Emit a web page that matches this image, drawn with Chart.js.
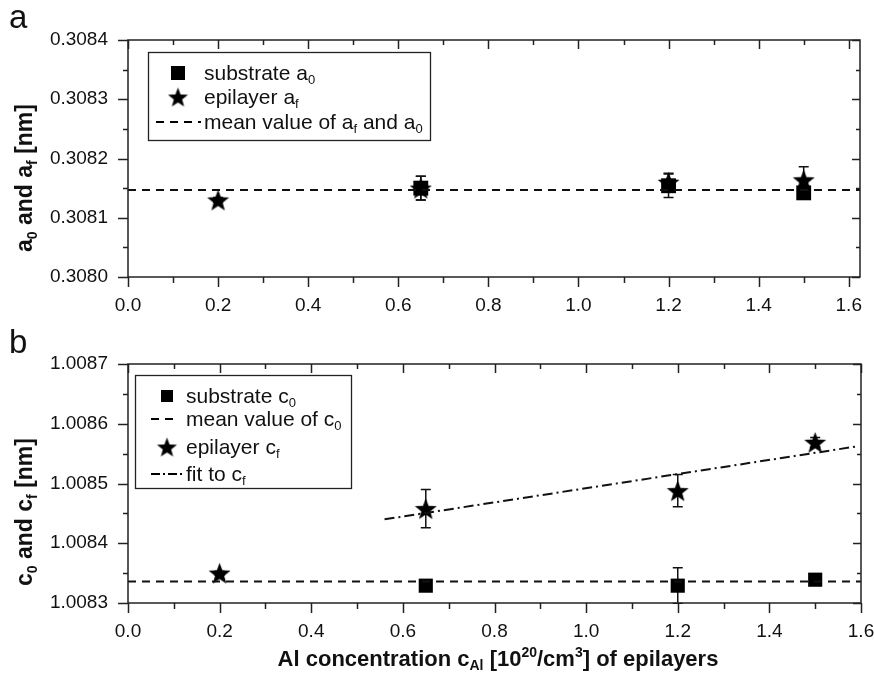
<!DOCTYPE html>
<html>
<head>
<meta charset="utf-8">
<script src="https://cdn.jsdelivr.net/npm/chart.js@4"></script>
<style>
  html, body { margin: 0; padding: 0; background: #fff; }
  #wrap { position: relative; width: 874px; height: 682px; }
  canvas { position: absolute; left: 0; }
  #ca { top: 0; }
  #cb { top: 320px; }
</style>
</head>
<body>
<div id="wrap">
  <canvas id="ca" width="874" height="320" style="width:874px;height:320px"></canvas>
  <canvas id="cb" width="874" height="362" style="width:874px;height:362px"></canvas>
</div>
<script>
// ---- data: lattice parameters versus Al concentration ----
const xTickVals = [0, 0.2, 0.4, 0.6, 0.8, 1.0, 1.2, 1.4, 1.6];
const aTickVals = [0.3080, 0.3081, 0.3082, 0.3083, 0.3084];
const cTickVals = [1.0083, 1.0084, 1.0085, 1.0086, 1.0087];

// panel a: a-lattice parameter [nm]
const substrateAX = [0.65, 1.2, 1.5];
const substrateA = [0.30815, 0.308154, 0.308142];
const substrateAErr = [0.00002, 0.00002, 0.000005];
const epilayerAX = [0.2, 0.65, 1.2, 1.5];
const epilayerA = [0.30813, 0.30815, 0.30816, 0.308164];
const epilayerAErr = [0.000004, 0.00002, 0.000015, 0.000022];
const meanA = 0.308147;

// panel b: c-lattice parameter [nm]
const substrateCX = [0.65, 1.2, 1.5];
const substrateC = [1.008329, 1.008329, 1.008339];
const substrateCErr = [0.000005, 0.00003, 0.000003];
const epilayerCX = [0.2, 0.65, 1.2, 1.5];
const epilayerC = [1.00835, 1.008458, 1.008488, 1.008569];
const epilayerCErr = [0.000003, 0.000032, 0.000027, 0.000008];
const meanC = 1.008336;
const fitCX = [0.56, 1.59];
const fitC = [1.00844, 1.008562];

// ---- drawing helpers ----
const FONT = '"Liberation Sans", Arial, Helvetica, sans-serif';
const INK = '#111';
function fontStr(size, bold) { return (bold ? 'bold ' : '') + size + 'px ' + FONT; }

// parts: plain strings, or {t, sub:true} / {t, sup:true}
function partsWidth(ctx, parts, size, bold) {
  let w = 0;
  for (const p of parts) {
    const small = typeof p !== 'string';
    ctx.font = fontStr(small ? Math.round(size * 0.62) : size, bold);
    w += ctx.measureText(small ? p.t : p).width;
  }
  return w;
}
function drawParts(ctx, parts, x, y, size, bold, align) {
  let cx = x;
  if (align === 'center') cx = x - partsWidth(ctx, parts, size, bold) / 2;
  ctx.textBaseline = 'alphabetic';
  ctx.textAlign = 'left';
  ctx.fillStyle = INK;
  for (const p of parts) {
    if (typeof p === 'string') {
      ctx.font = fontStr(size, bold);
      ctx.fillText(p, cx, y);
      cx += ctx.measureText(p).width;
    } else {
      const s = Math.round(size * 0.62);
      ctx.font = fontStr(s, bold);
      const dy = p.sub ? size * 0.2 : -size * 0.4;
      ctx.fillText(p.t, cx, y + dy);
      cx += ctx.measureText(p.t).width;
    }
  }
}

function makeStar(outer, inner) {
  const s = Math.ceil(outer * 2 + 2);
  const c = document.createElement('canvas');
  c.width = s; c.height = s;
  const g = c.getContext('2d');
  g.translate(s / 2, s / 2 + outer * 0.1);
  g.beginPath();
  for (let i = 0; i < 10; i++) {
    const r = i % 2 ? inner : outer;
    const ang = -Math.PI / 2 + i * Math.PI / 5;
    g.lineTo(r * Math.cos(ang), r * Math.sin(ang));
  }
  g.closePath();
  g.fillStyle = '#000';
  g.fill();
  return c;
}
const starImg = makeStar(11.5, 4.8);
const starSmall = makeStar(10.5, 4.4);

function pts(xs, ys) { return xs.map((x, i) => ({ x: x, y: ys[i] })); }

// frame, ticks, error bars, legend and titles of one panel
const panelPlugin = {
  id: 'panel',
  beforeDatasetsDraw(chart) {
    const ctx = chart.ctx;
    const xs = chart.scales.x, ys = chart.scales.y;
    const area = chart.chartArea;
    ctx.save();
    ctx.beginPath();
    ctx.rect(area.left - 1, area.top - 1, area.right - area.left + 2, area.bottom - area.top + 2);
    ctx.clip();
    ctx.strokeStyle = INK;
    ctx.lineWidth = 1.5;
    chart.data.datasets.forEach(ds => {
      if (!ds.errorBars) return;
      ds.data.forEach((p, i) => {
        const e = ds.errorBars[i];
        const px = xs.getPixelForValue(p.x);
        const y1 = ys.getPixelForValue(p.y + e);
        const y2 = ys.getPixelForValue(p.y - e);
        ctx.beginPath();
        ctx.moveTo(px, y1); ctx.lineTo(px, y2);
        ctx.moveTo(px - 5, y1); ctx.lineTo(px + 5, y1);
        ctx.moveTo(px - 5, y2); ctx.lineTo(px + 5, y2);
        ctx.stroke();
      });
    });
    ctx.restore();
  },
  afterDraw(chart, args, opts) {
    const ctx = chart.ctx;
    const xs = chart.scales.x, ys = chart.scales.y;
    const { left, right, top, bottom } = chart.chartArea;
    ctx.save();
    ctx.strokeStyle = '#222';
    ctx.lineWidth = 1.5;
    ctx.strokeRect(left, top, right - left, bottom - top);
    ctx.beginPath();
    xTickVals.forEach((v, i) => {
      const px = Math.round(xs.getPixelForValue(v)) + 0.5;
      ctx.moveTo(px, bottom); ctx.lineTo(px, bottom + 10);
      ctx.moveTo(px, top); ctx.lineTo(px, top + 9);
      if (i < xTickVals.length - 1) {
        const mx = Math.round(xs.getPixelForValue((v + xTickVals[i + 1]) / 2)) + 0.5;
        ctx.moveTo(mx, bottom); ctx.lineTo(mx, bottom + 6);
        ctx.moveTo(mx, top); ctx.lineTo(mx, top + 5);
      }
    });
    const yt = opts.yTicks;
    yt.forEach((v, i) => {
      const py = Math.round(ys.getPixelForValue(v)) + 0.5;
      ctx.moveTo(left - 10, py); ctx.lineTo(left, py);
      ctx.moveTo(right - 8, py); ctx.lineTo(right, py);
      if (i < yt.length - 1) {
        const my = Math.round(ys.getPixelForValue((v + yt[i + 1]) / 2)) + 0.5;
        ctx.moveTo(left - 5, my); ctx.lineTo(left, my);
        ctx.moveTo(right - 4, my); ctx.lineTo(right, my);
      }
    });
    ctx.stroke();

    // panel letter
    ctx.fillStyle = INK;
    ctx.font = '33px ' + FONT;
    ctx.textAlign = 'left';
    ctx.textBaseline = 'alphabetic';
    ctx.fillText(opts.letter, opts.letterPos[0], opts.letterPos[1]);

    // y-axis title (rotated)
    ctx.save();
    ctx.translate(opts.yTitlePos[0], opts.yTitlePos[1]);
    ctx.rotate(-Math.PI / 2);
    drawParts(ctx, opts.yTitle, 0, 0, 23, true, 'center');
    ctx.restore();

    // x-axis title
    if (opts.xTitle) {
      drawParts(ctx, opts.xTitle, opts.xTitlePos[0], opts.xTitlePos[1], 22, true, 'center');
    }

    // legend
    const lg = opts.legend;
    const b = lg.box;
    ctx.fillStyle = '#fff';
    ctx.fillRect(b[0], b[1], b[2] - b[0], b[3] - b[1]);
    ctx.strokeStyle = '#222';
    ctx.lineWidth = 1.3;
    ctx.strokeRect(b[0] + 0.5, b[1] + 0.5, b[2] - b[0], b[3] - b[1]);
    lg.rows.forEach(r => {
      if (r.kind === 'square') {
        const h = lg.squareSize / 2;
        ctx.fillStyle = '#000';
        ctx.fillRect(lg.markerX - h, r.y - h, lg.squareSize, lg.squareSize);
      } else if (r.kind === 'star') {
        ctx.drawImage(starSmall, lg.markerX - starSmall.width / 2, r.y - starSmall.height / 2);
      } else {
        ctx.strokeStyle = '#000';
        ctx.lineWidth = 2;
        ctx.setLineDash(r.kind === 'dash' ? [8, 6] : [9, 3, 2, 3]);
        ctx.beginPath();
        ctx.moveTo(r.x0, r.y); ctx.lineTo(r.x1, r.y);
        ctx.stroke();
        ctx.setLineDash([]);
      }
      drawParts(ctx, r.parts, lg.textX, r.y + 7, 21, false, 'left');
    });
    ctx.restore();
  }
};

function fixScale(width) {
  return function (scale) {
    scale.width = width;
    scale.paddingTop = 0; scale.paddingBottom = 0;
  };
}
function fixXScale(height) {
  return function (scale) {
    scale.height = height;
    scale.paddingLeft = 0; scale.paddingRight = 0;
  };
}

function makeOptions(cfg) {
  return {
    responsive: false,
    animation: false,
    events: [],
    layout: { padding: { left: 0, right: cfg.padRight, top: cfg.padTop, bottom: 0 } },
    scales: {
      x: {
        type: 'linear',
        min: 0,
        max: cfg.xMax,
        afterBuildTicks: s => { s.ticks = xTickVals.map(v => ({ value: v })); },
        afterFit: fixXScale(cfg.xHeight),
        grid: { display: false, drawTicks: false },
        border: { display: false },
        ticks: {
          padding: 17,
          color: INK,
          font: { family: FONT, size: 19 },
          maxRotation: 0,
          callback: v => Number(v).toFixed(1)
        }
      },
      y: {
        type: 'linear',
        min: cfg.yTicks[0],
        max: cfg.yTicks[cfg.yTicks.length - 1],
        afterBuildTicks: s => { s.ticks = cfg.yTicks.map(v => ({ value: v })); },
        afterFit: fixScale(128),
        grid: { display: false, drawTicks: false },
        border: { display: false },
        ticks: {
          padding: 20,
          color: INK,
          font: { family: FONT, size: 19 },
          callback: v => Number(v).toFixed(4)
        }
      }
    },
    plugins: {
      legend: { display: false },
      tooltip: { enabled: false },
      panel: cfg.panel
    }
  };
}

// ---- panel a ----
new Chart(document.getElementById('ca'), {
  type: 'scatter',
  data: {
    datasets: [
      {
        type: 'line',
        data: [{ x: 0, y: meanA }, { x: 1.625, y: meanA }],
        borderColor: '#111', borderWidth: 2, borderDash: [8, 6],
        pointRadius: 0, fill: false
      },
      {
        data: pts(epilayerAX, epilayerA),
        errorBars: epilayerAErr,
        pointStyle: starImg
      },
      {
        data: pts(substrateAX, substrateA),
        errorBars: substrateAErr,
        pointStyle: 'rect', pointRadius: 10.5,
        backgroundColor: '#000', borderColor: '#000', borderWidth: 0
      }
    ]
  },
  options: makeOptions({
    padRight: 14, padTop: 40, xHeight: 43, xMax: 1.625, yTicks: aTickVals,
    panel: {
      yTicks: aTickVals,
      letter: 'a', letterPos: [9, 28],
      yTitle: ['a', { t: '0', sub: true }, ' and a', { t: 'f', sub: true }, ' [nm]'],
      yTitlePos: [32, 178],
      xTitle: null,
      legend: {
        box: [148, 52, 430, 140],
        markerX: 178, textX: 204, squareSize: 14,
        rows: [
          { kind: 'square', y: 73, parts: ['substrate a', { t: '0', sub: true }] },
          { kind: 'star', y: 97, parts: ['epilayer a', { t: 'f', sub: true }] },
          { kind: 'dash', y: 122, x0: 156, x1: 201, parts: ['mean value of a', { t: 'f', sub: true }, ' and a', { t: '0', sub: true }] }
        ]
      }
    }
  }),
  plugins: [panelPlugin]
});

// ---- panel b ----
new Chart(document.getElementById('cb'), {
  type: 'scatter',
  data: {
    datasets: [
      {
        type: 'line',
        data: [{ x: 0, y: meanC }, { x: 1.6, y: meanC }],
        borderColor: '#111', borderWidth: 2, borderDash: [8, 6],
        pointRadius: 0, fill: false
      },
      {
        type: 'line',
        data: pts(fitCX, fitC),
        borderColor: '#111', borderWidth: 2, borderDash: [10, 4, 2, 4],
        pointRadius: 0, fill: false
      },
      {
        data: pts(substrateCX, substrateC),
        errorBars: substrateCErr,
        pointStyle: 'rect', pointRadius: 10,
        backgroundColor: '#000', borderColor: '#000', borderWidth: 0
      },
      {
        data: pts(epilayerCX, epilayerC),
        errorBars: epilayerCErr,
        pointStyle: starImg
      }
    ]
  },
  options: makeOptions({
    padRight: 13, padTop: 44, xHeight: 79, xMax: 1.6, yTicks: cTickVals,
    panel: {
      yTicks: cTickVals,
      letter: 'b', letterPos: [9, 33],
      yTitle: ['c', { t: '0', sub: true }, ' and c', { t: 'f', sub: true }, ' [nm]'],
      yTitlePos: [32, 192],
      xTitle: ['Al concentration c', { t: 'Al', sub: true }, ' [10', { t: '20', sup: true }, '/cm', { t: '3', sup: true }, '] of epilayers'],
      xTitlePos: [498, 346],
      legend: {
        box: [135, 55, 351, 168],
        markerX: 167, textX: 186, squareSize: 12,
        rows: [
          { kind: 'square', y: 76, parts: ['substrate c', { t: '0', sub: true }] },
          { kind: 'dash', y: 99, x0: 151, x1: 177, parts: ['mean value of c', { t: '0', sub: true }] },
          { kind: 'star', y: 127, parts: ['epilayer c', { t: 'f', sub: true }] },
          { kind: 'dashdot', y: 154, x0: 151, x1: 183, parts: ['fit to c', { t: 'f', sub: true }] }
        ]
      }
    }
  }),
  plugins: [panelPlugin]
});
</script>
</body>
</html>
